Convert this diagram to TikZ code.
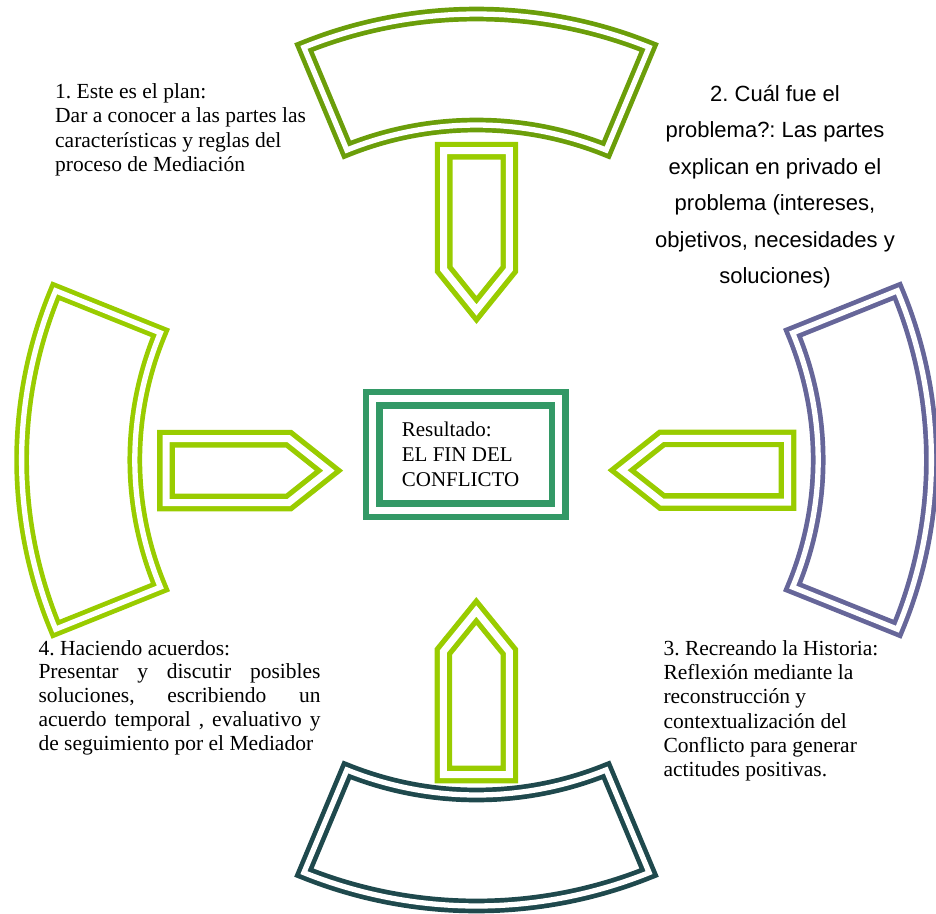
\documentclass[tikz,border=0pt]{standalone}
\usepackage{fontspec}
\setmainfont{Liberation Serif}
\newfontfamily\arialfont{Liberation Sans}
\definecolor{olivegr}{RGB}{107,158,10}
\definecolor{limegr}{RGB}{153,204,0}
\definecolor{purplegr}{RGB}{102,102,153}
\definecolor{tealdk}{RGB}{31,73,77}
\definecolor{centergr}{RGB}{51,153,102}
\begin{document}
\frenchspacing
\begin{tikzpicture}[x=1pt,y=-1pt,
  arcblk/.style={line width=4.7pt, double=white, double distance=5.3pt, line join=miter},
  arrowblk/.style={line width=5.3pt, double=white, double distance=7pt, line join=miter, draw=limegr},
  boxblk/.style={line width=6.5pt, double=white, double distance=6.8pt, line join=miter, draw=centergr},
  txt/.style={inner sep=0pt, align=left}]
\useasboundingbox (0,0) rectangle (936,913);

% arc blocks
\begin{scope}[shift={(476.5,460)}, xscale=1.02, yscale=-1]
\foreach \ang/\col in {90/olivegr, 0/purplegr, 270/tealdk, 180/limegr} {
  \pgfmathsetmacro{\aa}{\ang-22.3}
  \pgfmathsetmacro{\ab}{\ang+22.3}
  \draw[arcblk, draw=\col] (\aa:446) arc[start angle=\aa, end angle=\ab, radius=446]
     -- (\ab:335) arc[start angle=\ab, end angle=\aa, radius=335] -- cycle;
}
\end{scope}

% arrows
\draw[arrowblk] (443.7,150.7) -- (509.3,150.7) -- (509.3,269.4) -- (476.5,310) -- (443.7,269.4) -- cycle;
\draw[arrowblk] (443.3,774.5) -- (443.3,651.6) -- (476.3,611) -- (509.3,651.6) -- (509.3,774.5) -- cycle;
\draw[arrowblk] (166,438.7) -- (288.8,438.7) -- (329,470.6) -- (288.8,502.5) -- (166,502.5) -- cycle;
\draw[arrowblk] (787.5,438.3) -- (662,438.3) -- (621.7,470.2) -- (662,502) -- (787.5,502) -- cycle;

% center box
\draw[boxblk] (372.7,398.8) rectangle (558.7,510.3);
\node[txt, anchor=base west, font=\fontsize{21}{25}\selectfont] (resultado) at (401.7,486.7)
  {Resultado:\\EL FIN DEL\\CONFLICTO};

% texts (base anchor = baseline of the last line)
\node[txt, anchor=base west, font=\fontsize{21.5}{24.5}\selectfont] (plan) at (55,171.8)
  {1. Este es el plan:\\Dar a conocer a las partes las\\características y reglas del\\proceso de Mediación};

\node[inner sep=0pt, align=center, anchor=base, font=\arialfont\fontsize{22}{36.5}\selectfont] (problema) at (775,283.5)
  {2. Cuál fue el\\problema?: Las partes\\explican en privado el\\problema (intereses,\\objetivos, necesidades y\\soluciones)};

\node[txt, anchor=base west, font=\fontsize{21.5}{24.3}\selectfont] (historia) at (663.3,776.6)
  {3. Recreando la Historia:\\Reflexión mediante la\\reconstrucción y\\contextualización del\\Conflicto para generar\\actitudes positivas.};

\node[txt, anchor=base west, font=\fontsize{21.5}{23.8}\selectfont] (acuerdos) at (38.3,750.2)
  {4. Haciendo acuerdos:\\\makebox[282pt][s]{Presentar y discutir posibles}\\\makebox[282pt][s]{soluciones, escribiendo un}\\\makebox[282pt][s]{acuerdo temporal , evaluativo y}\\de seguimiento por el Mediador};
\end{tikzpicture}
\end{document}
